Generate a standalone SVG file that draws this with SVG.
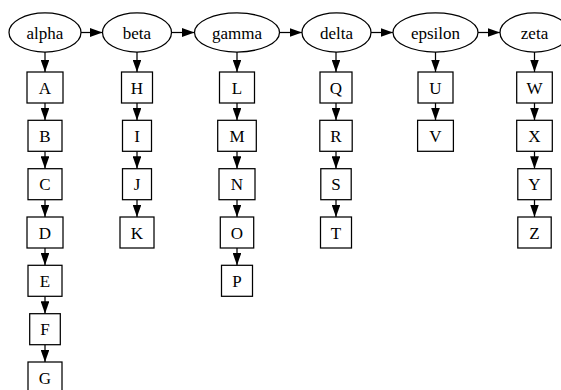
<svg xmlns="http://www.w3.org/2000/svg" width="561" height="390" viewBox="0 0 561 390">
<defs>
<style>
.n ellipse, .n rect { fill: #fff; stroke: #000; stroke-width: 1.25; }
text { font-family: "Liberation Serif", "Times New Roman", serif; font-size: 17px; text-anchor: middle; fill: #000; }
#edges line { stroke: #000; stroke-width: 1.25; marker-end: url(#ah); }
</style>
<marker id="ah" viewBox="0 0 12.5 8.8" refX="12.5" refY="4.4" markerWidth="12.5" markerHeight="8.8" markerUnits="userSpaceOnUse" orient="auto">
<path d="M0,0 L12.5,4.4 L0,8.8 Z" fill="#000"/>
</marker>
</defs>
<rect width="561" height="390" fill="#fff"/>
<g id="edges">
<line x1="81" y1="32.5" x2="102.5" y2="32.5"/>
<line x1="171.5" y1="32.5" x2="194.5" y2="32.5"/>
<line x1="279.5" y1="32.5" x2="302" y2="32.5"/>
<line x1="371" y1="32.5" x2="393" y2="32.5"/>
<line x1="478" y1="32.5" x2="500" y2="32.5"/>
<line x1="45" y1="52" x2="45" y2="72"/>
<line x1="45" y1="103" x2="45" y2="120.3"/>
<line x1="45" y1="151.3" x2="45" y2="168.7"/>
<line x1="45" y1="199.7" x2="45" y2="217"/>
<line x1="45" y1="248" x2="45" y2="265.3"/>
<line x1="45" y1="296.3" x2="45" y2="313.7"/>
<line x1="45" y1="344.7" x2="45" y2="362"/>
<line x1="137" y1="52" x2="137" y2="72"/>
<line x1="137" y1="103" x2="137" y2="120.3"/>
<line x1="137" y1="151.3" x2="137" y2="168.7"/>
<line x1="137" y1="199.7" x2="137" y2="217"/>
<line x1="237" y1="52" x2="237" y2="72"/>
<line x1="237" y1="103" x2="237" y2="120.3"/>
<line x1="237" y1="151.3" x2="237" y2="168.7"/>
<line x1="237" y1="199.7" x2="237" y2="217"/>
<line x1="237" y1="248" x2="237" y2="265.3"/>
<line x1="336" y1="52" x2="336" y2="72"/>
<line x1="336" y1="103" x2="336" y2="120.3"/>
<line x1="336" y1="151.3" x2="336" y2="168.7"/>
<line x1="336" y1="199.7" x2="336" y2="217"/>
<line x1="435.5" y1="52" x2="435.5" y2="72"/>
<line x1="435.5" y1="103" x2="435.5" y2="120.3"/>
<line x1="534.5" y1="52" x2="534.5" y2="72"/>
<line x1="534.5" y1="103" x2="534.5" y2="120.3"/>
<line x1="534.5" y1="151.3" x2="534.5" y2="168.7"/>
<line x1="534.5" y1="199.7" x2="534.5" y2="217"/>
</g>
<g id="alpha" class="n"><ellipse cx="45" cy="32.5" rx="36" ry="19.5"/><text x="45" y="38.5">alpha</text></g>
<g id="beta" class="n"><ellipse cx="137" cy="32.5" rx="34.5" ry="19.5"/><text x="137" y="38.5">beta</text></g>
<g id="gamma" class="n"><ellipse cx="237" cy="32.5" rx="42.5" ry="19.5"/><text x="237" y="38.5">gamma</text></g>
<g id="delta" class="n"><ellipse cx="336.5" cy="32.5" rx="34.5" ry="19.5"/><text x="336.5" y="38.5">delta</text></g>
<g id="epsilon" class="n"><ellipse cx="435.5" cy="32.5" rx="42.5" ry="19.5"/><text x="435.5" y="38.5">epsilon</text></g>
<g id="zeta" class="n"><ellipse cx="534.5" cy="32.5" rx="34.5" ry="19.5"/><text x="534.5" y="38.5">zeta</text></g>

<g id="A" class="n"><rect x="27" y="72" width="36" height="31"/><text x="45" y="93.5">A</text></g>
<g id="B" class="n"><rect x="28" y="120.3" width="34" height="31"/><text x="45" y="141.8">B</text></g>
<g id="C" class="n"><rect x="28" y="168.7" width="34" height="31"/><text x="45" y="190.2">C</text></g>
<g id="D" class="n"><rect x="27" y="217" width="36" height="31"/><text x="45" y="238.5">D</text></g>
<g id="E" class="n"><rect x="28" y="265.3" width="34" height="31"/><text x="45" y="286.8">E</text></g>
<g id="F" class="n"><rect x="29.7" y="313.7" width="30.6" height="31"/><text x="45" y="335.2">F</text></g>
<g id="G" class="n"><rect x="28" y="362" width="34" height="31"/><text x="45" y="383.5">G</text></g>

<g id="H" class="n"><rect x="121.5" y="72" width="31" height="31"/><text x="137" y="93.5">H</text></g>
<g id="I" class="n"><rect x="122.5" y="120.3" width="29" height="31"/><text x="137" y="141.8">I</text></g>
<g id="J" class="n"><rect x="122.5" y="168.7" width="29" height="31"/><text x="137" y="190.2">J</text></g>
<g id="K" class="n"><rect x="120" y="217" width="34" height="31"/><text x="137" y="238.5">K</text></g>

<g id="L" class="n"><rect x="219.5" y="72" width="35" height="31"/><text x="237" y="93.5">L</text></g>
<g id="M" class="n"><rect x="217.7" y="120.3" width="38.6" height="31"/><text x="237" y="141.8">M</text></g>
<g id="N" class="n"><rect x="219" y="168.7" width="36" height="31"/><text x="237" y="190.2">N</text></g>
<g id="O" class="n"><rect x="220.3" y="217" width="33.4" height="31"/><text x="237" y="238.5">O</text></g>
<g id="P" class="n"><rect x="221.5" y="265.3" width="31" height="31"/><text x="237" y="286.8">P</text></g>

<g id="Q" class="n"><rect x="320" y="72" width="32" height="31"/><text x="336" y="93.5">Q</text></g>
<g id="R" class="n"><rect x="319.8" y="120.3" width="32.4" height="31"/><text x="336" y="141.8">R</text></g>
<g id="S" class="n"><rect x="320.8" y="168.7" width="30.4" height="31"/><text x="336" y="190.2">S</text></g>
<g id="T" class="n"><rect x="320.5" y="217" width="31" height="31"/><text x="336" y="238.5">T</text></g>

<g id="U" class="n"><rect x="418" y="72" width="35" height="31"/><text x="435.5" y="93.5">U</text></g>
<g id="V" class="n"><rect x="417.6" y="120.3" width="35.8" height="31"/><text x="435.5" y="141.8">V</text></g>

<g id="W" class="n"><rect x="516.7" y="72" width="35.6" height="31"/><text x="534.5" y="93.5">W</text></g>
<g id="X" class="n"><rect x="516.7" y="120.3" width="35.6" height="31"/><text x="534.5" y="141.8">X</text></g>
<g id="Y" class="n"><rect x="517.8" y="168.7" width="33.4" height="31"/><text x="534.5" y="190.2">Y</text></g>
<g id="Z" class="n"><rect x="517.8" y="217" width="33.4" height="31"/><text x="534.5" y="238.5">Z</text></g>
</svg>
